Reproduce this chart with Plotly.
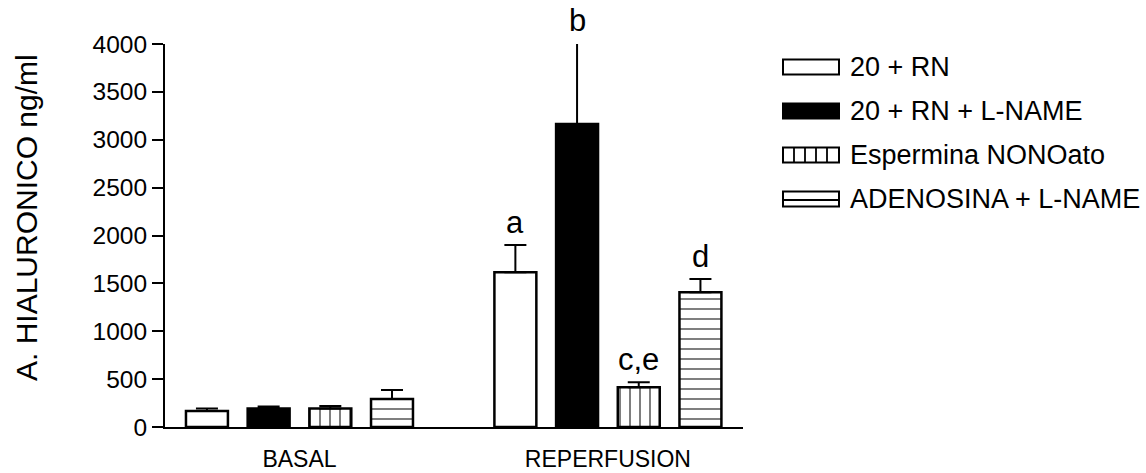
import plotly.graph_objects as go

# Data: hyaluronic acid (ng/ml), mean and upper SEM for each treatment group
groups = ["BASAL", "REPERFUSION"]
series_names = ["20 + RN", "20 + RN + L-NAME", "Espermina NONOato", "ADENOSINA + L-NAME"]
means = {
    "20 + RN": [167, 1616],
    "20 + RN + L-NAME": [192, 3164],
    "Espermina NONOato": [192, 415],
    "ADENOSINA + L-NAME": [292, 1407],
}
errors = {
    "20 + RN": [25, 285],
    "20 + RN + L-NAME": [21, 846],
    "Espermina NONOato": [27, 52],
    "ADENOSINA + L-NAME": [94, 139],
}
# Significance letters over the reperfusion bars
sig_labels = {
    "20 + RN": ["", "a"],
    "20 + RN + L-NAME": ["", "b"],
    "Espermina NONOato": ["", "c,e"],
    "ADENOSINA + L-NAME": ["", "d"],
}
y_ticks = [0, 500, 1000, 1500, 2000, 2500, 3000, 3500, 4000]
y_range = [0, 4000]

FONT = "Liberation Sans, Arial, sans-serif"
W, H = 1146, 473
ML, MR, MT, MB = 165, 403, 44, 46
PW, PH = W - ML - MR, H - MT - MB

styles = {
    "20 + RN": dict(color="white", pattern=None),
    "20 + RN + L-NAME": dict(color="black", pattern=None),
    "Espermina NONOato": dict(color="white", pattern=dict(shape="|", size=10, solidity=0.2,
                                                          fgcolor="black", bgcolor="white", fillmode="overlay")),
    "ADENOSINA + L-NAME": dict(color="white", pattern=dict(shape="-", size=10, solidity=0.2,
                                                           fgcolor="black", bgcolor="white", fillmode="overlay")),
}

fig = go.Figure()
for name in series_names:
    st = styles[name]
    marker = dict(color=st["color"], line=dict(color="black", width=2.5))
    if st["pattern"]:
        marker["pattern"] = st["pattern"]
    fig.add_trace(go.Bar(
        x=groups, y=means[name], name=name, marker=marker,
        error_y=dict(type="data", array=errors[name], arrayminus=[0] * len(groups),
                     symmetric=False, color="black", thickness=2, width=11),
        cliponaxis=False, showlegend=False,
    ))

# Letters above the error bars; grouped bars sit at offsets of 0.2 category units
bargap = 0.2
n = len(series_names)
slot = (1 - bargap) / n
annotations = []
for i, name in enumerate(series_names):
    off = -(1 - bargap) / 2 + slot * (i + 0.5)
    for g, lab in enumerate(sig_labels[name]):
        if lab:
            top = means[name][g] + errors[name][g]
            annotations.append(dict(
                x=g + off, xref="x",
                y=(top - y_range[0]) / (y_range[1] - y_range[0]), yref="paper",
                text=lab, showarrow=False, yanchor="bottom", yshift=3,
                font=dict(family=FONT, size=31, color="black"),
            ))


def px_to_paper(px, py):
    return (px - ML) / PW, (H - MB - py) / PH


# Y axis title
tx, ty = px_to_paper(26, 218)
annotations.append(dict(x=tx, y=ty, xref="paper", yref="paper", text="A. HIALURONICO ng/ml",
                        textangle=-90, showarrow=False, xanchor="center", yanchor="middle",
                        font=dict(family=FONT, size=30, color="black")))

# Legend with wide swatches
shapes = []
box_x0, box_x1, box_h = 783, 839, 15
row_y = [67, 111, 155, 199]
for name, cy in zip(series_names, row_y):
    x0, y1 = px_to_paper(box_x0, cy - box_h / 2)
    x1, y0 = px_to_paper(box_x1, cy + box_h / 2)
    fill = "black" if name == "20 + RN + L-NAME" else "white"
    shapes.append(dict(type="rect", xref="paper", yref="paper", x0=x0, x1=x1, y0=y0, y1=y1,
                       fillcolor=fill, line=dict(color="black", width=2)))
    if name == "Espermina NONOato":
        for lx in [794, 805, 816, 827]:
            a, b0 = px_to_paper(lx, cy + box_h / 2)
            _, b1 = px_to_paper(lx, cy - box_h / 2)
            shapes.append(dict(type="line", xref="paper", yref="paper", x0=a, x1=a, y0=b0, y1=b1,
                               line=dict(color="black", width=1.8)))
    if name == "ADENOSINA + L-NAME":
        a0, b = px_to_paper(box_x0, cy + 1)
        a1, _ = px_to_paper(box_x1, cy + 1)
        shapes.append(dict(type="line", xref="paper", yref="paper", x0=a0, x1=a1, y0=b, y1=b,
                           line=dict(color="black", width=1.8)))
    lx, ly = px_to_paper(848, cy)
    annotations.append(dict(x=lx, y=ly, xref="paper", yref="paper", text=name, showarrow=False,
                            xanchor="left", yanchor="middle",
                            font=dict(family=FONT, size=27, color="black")))

fig.update_layout(
    width=W, height=H,
    margin=dict(l=ML, r=MR, t=MT, b=MB, pad=0, autoexpand=False),
    paper_bgcolor="white", plot_bgcolor="white",
    barmode="group", bargap=bargap, bargroupgap=0.32,
    showlegend=False,
    font=dict(family=FONT, color="black"),
    annotations=annotations, shapes=shapes,
)
fig.update_xaxes(
    range=[-0.436, 1.438], showline=True, linecolor="black", linewidth=2,
    ticks="", showgrid=False, zeroline=False, automargin=False,
    tickfont=dict(family=FONT, size=23, color="black"), ticklabelstandoff=10,
)
fig.update_yaxes(
    range=y_range, tickvals=y_ticks, ticktext=[str(v) for v in y_ticks],
    showline=True, linecolor="black", linewidth=2,
    ticks="outside", ticklen=11, tickwidth=2, tickcolor="black",
    showgrid=False, zeroline=False, automargin=False,
    tickfont=dict(family=FONT, size=24.5, color="black"),
)

fig.write_html("out.html")
